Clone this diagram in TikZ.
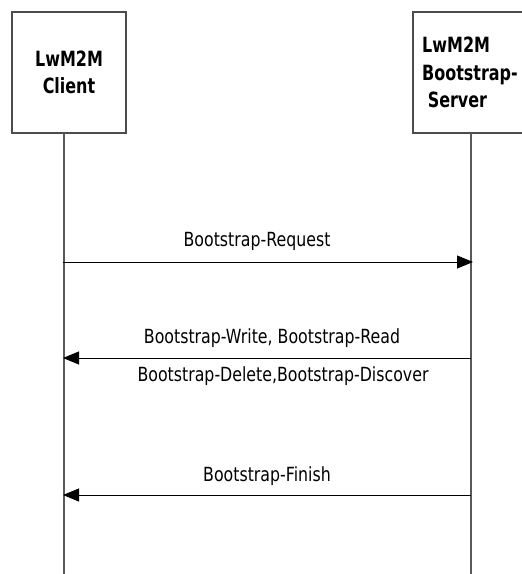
\documentclass[tikz,border=0pt]{standalone}
\usepackage{fontspec}
\setmainfont{DejaVu Sans}
\newfontfamily\lblfont[FakeStretch=0.81]{DejaVu Sans}
\newfontfamily\hdrfont[FakeStretch=0.76]{DejaVu Sans}
\usetikzlibrary{arrows.meta}
\begin{document}
\begin{tikzpicture}[x=1pt,y=-1pt,
  entity/.style={draw=black!70,line width=1.1pt,rectangle,minimum width=114pt,minimum height=121pt,inner sep=0pt,font=\hdrfont\bfseries\fontsize{21}{27.5}\selectfont,align=left},
  life/.style={draw=black!65,line width=1.2pt},
  msg/.style={draw=black,line width=0.9pt,-{Triangle[length=16pt,width=13pt]}},
  lbl/.style={font=\lblfont\fontsize{19.5}{22}\selectfont,inner sep=0pt}]
\useasboundingbox (0,0) rectangle (522,574);
\clip (0,0) rectangle (522,574);
\node[entity,align=center] (cl) at (69,72.5) {LwM2M\\Client};
\node[entity] (bs) at (470,72.5) {LwM2M\\Bootstrap-\\\ Server};
\coordinate (clb) at (64,133);
\coordinate (bsb) at (471,133);
\coordinate (cle) at (64,574);
\coordinate (bse) at (471,574);
\draw[life] (clb) -- (cle);
\draw[life] (bsb) -- (bse);
\coordinate (r1) at (63,262);
\coordinate (r2) at (473,262);
\draw[msg] (r1) -- (r2);
\node[lbl] (t1) at (257,241) {Bootstrap-Request};
\coordinate (w1) at (471,358);
\coordinate (w2) at (63,358);
\draw[msg] (w1) -- (w2);
\node[lbl] (t2) at (272,338) {Bootstrap-Write, Bootstrap-Read};
\node[lbl] (t3) at (283,376) {Bootstrap-Delete,Bootstrap-Discover};
\coordinate (f1) at (471,495);
\coordinate (f2) at (63,495);
\draw[msg] (f1) -- (f2);
\node[lbl] (t4) at (267,476) {Bootstrap-Finish};
\end{tikzpicture}
\end{document}
